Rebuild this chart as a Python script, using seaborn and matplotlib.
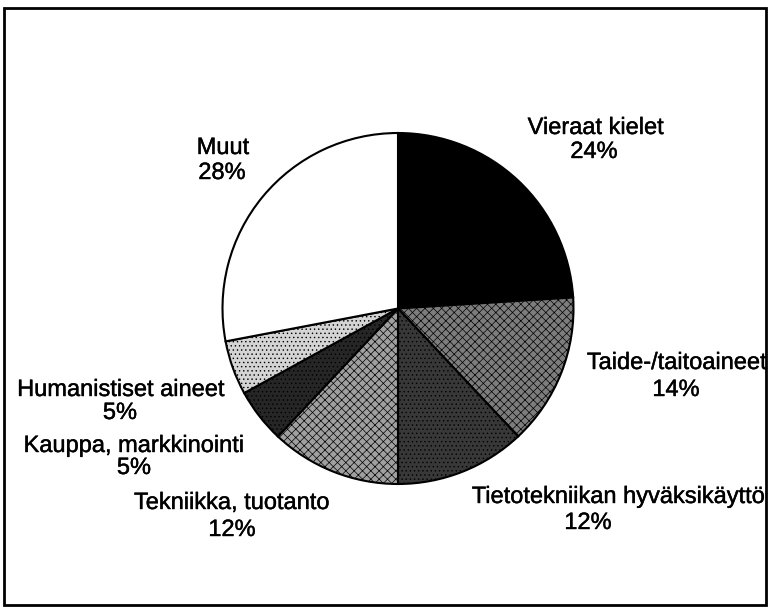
import matplotlib
matplotlib.use("Agg")
import matplotlib.pyplot as plt
import matplotlib.patheffects as pe
import seaborn as sns
from matplotlib.patches import Rectangle

# Kurssien jakauma aihealueittain
categories = ["Vieraat kielet", "Taide-/taitoaineet", "Tietotekniikan hyväksikäyttö",
              "Tekniikka, tuotanto", "Kauppa, markkinointi", "Humanistiset aineet", "Muut"]
shares = [24, 14, 12, 12, 5, 5, 28]

# grey tones standing in for the halftone fills of the original
fills = ["#000000", "#7d7d7d", "#383838", "#a0a0a0", "#262626", "#d4d4d4", "#ffffff"]
hatches = ["", "xxxx", "....", "xxxx", "....", "....", ""]

# label placement in pixels from the top-left corner
name_pos = [(596, 128), (677, 363), (766, 497), (232, 503), (134, 446), (121, 390), (223, 148)]
name_ha = ["center", "center", "right", "center", "center", "center", "center"]
pct_pos = [(594, 152), (676, 390), (588, 523), (232, 530), (134, 468), (120, 413), (222, 173)]

W, H = 770, 607

sns.set_style("white")
plt.rcParams['font.family'] = ['Liberation Sans', 'DejaVu Sans']
plt.rcParams['hatch.linewidth'] = 0.5

fig = plt.figure(figsize=(W / 100, H / 100), dpi=100)
ax = fig.add_axes([0, 0, 1, 1])

wedges, _ = ax.pie(shares, startangle=90, counterclock=False,
                   center=(398, H - 308.5), radius=175.5, colors=fills,
                   wedgeprops=dict(edgecolor="black", linewidth=1.5))
for w, h in zip(wedges, hatches):
    w.set_hatch(h)

# slightly heavier strokes, like the old screen font
thick = [pe.withStroke(linewidth=0.3, foreground="black")]
for name, share, (nx, ny), ha, (px, py) in zip(categories, shares, name_pos, name_ha, pct_pos):
    ax.text(nx, H - ny, name, ha=ha, va="center", fontsize=17, color="black", path_effects=thick)
    ax.text(px, H - py, f"{share}%", ha="center", va="center", fontsize=17, color="black",
            path_effects=thick)

# outer frame
ax.add_patch(Rectangle((4, 2), 762, 597, fill=False, edgecolor="black", linewidth=2))

ax.set_xlim(0, W)
ax.set_ylim(0, H)
ax.set_aspect("equal")
ax.axis("off")

fig.savefig("out.png", dpi=100)
